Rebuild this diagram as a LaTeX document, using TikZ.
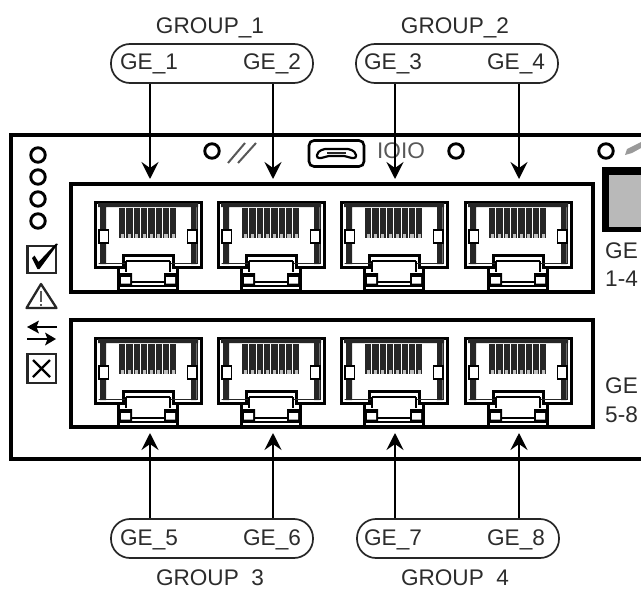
\documentclass[tikz,border=0pt]{standalone}
\usepackage{fontspec}
\setmainfont{Liberation Sans}
\usetikzlibrary{arrows.meta}
\definecolor{ink}{HTML}{2C2C2C}
\definecolor{dark}{HTML}{262626}
\definecolor{fillgray}{HTML}{B9B9B9}
\definecolor{thingray}{HTML}{585858}
\definecolor{pengray}{HTML}{9A9A9A}
\tikzset{
  x=1pt,y=-1pt,
  lbl/.style={font=\fontsize{22.6}{24}\selectfont,text=ink,anchor=base,inner sep=0pt},
  lblw/.style={font=\fontsize{22.6}{24}\selectfont,text=ink,anchor=base west,inner sep=0pt},
  pill/.style={draw=dark,line width=1.7pt,rounded corners=19pt,minimum height=39pt,inner sep=0pt,fill=white},
  arr/.style={line width=1.9pt,black,-{Stealth[length=17pt,width=17pt,inset=6pt]}},
  frame/.style={draw=black,line width=3.6pt},
  led/.style={draw=black,line width=2.9pt,fill=white,circle,minimum size=14.5pt,inner sep=0pt},
  icon/.style={draw=dark,line width=2.3pt},
  jack/.pic={
    \draw[black,line width=3pt,line join=miter,fill=white]
      (0,0)--(106,0)--(106,65)--(78,65)--(78,53)--(28,53)--(28,65)--(0,65)--cycle;
    \draw[dark,line width=1.2pt] (3.5,3.5)--(102.5,3.5)--(102.5,61.5)--(75,61.5) (31,61.5)--(3.5,61.5)--cycle;
    \fill[dark] (5,5)rectangle(11,62) (96,5)rectangle(101.5,62) (3,1)rectangle(103,5);
    \draw[black,line width=1.5pt,fill=white] (4,28)rectangle(13.5,41) (92.5,28)rectangle(102,41);
    \foreach \k in {0,...,7}{
      \fill[dark] ({24+\k*7.3},6)rectangle ++(6.3,30);
      \fill[white!75!black] ({25.6+\k*7.3},31.5)rectangle ++(3.2,4);
    }
    \draw[black,line width=3pt] (23,65)--(23,88)--(82,88)--(82,65);
    \draw[black,line width=2pt] (23,83.5)--(82,83.5);
    \draw[black,line width=2.4pt] (31,59)--(75,59) (31,59)--(31,70) (75,59)--(75,70) (37,80)--(69,80);
    \fill[black] (24,71)rectangle(37,83) (69,71)rectangle(82,83);
    \fill[white] (26,75)rectangle(35,81.5) (71,75)rectangle(80,81.5);
  }
}
\begin{document}
\begin{tikzpicture}
\useasboundingbox (0,0) rectangle (641,589);
\clip (0,0) rectangle (641,589);
\fill[white] (0,0) rectangle (641,589);
% panel
\draw[black,line width=3.8pt] (660,135)--(11,135)--(11,459)--(660,459);
\draw[frame] (71,184) rectangle (593,292);
\draw[frame] (71,320) rectangle (593,427);
% jacks
\foreach \jx in {95,218,341,465}{
  \pic at (\jx,202) {jack};
  \pic at (\jx,338) {jack};
}
% LEDs
\node[led] (l1) at (38,155) {};
\node[led] (l2) at (38,177) {};
\node[led] (l3) at (38,199) {};
\node[led] (l4) at (38,221) {};
\node[led] (l5) at (212,151) {};
\node[led] (l6) at (456,151) {};
\node[led] (l7) at (606,151) {};
% left icons
\draw[icon] (27.5,246) rectangle (56,273);
\fill[black] (32,258)--(34.5,255.5)--(38.5,262)--(56,243.5)--(58,244)--(39.5,269)--(37.5,269)--cycle;
\draw[icon,line join=round] (41,284)--(56.5,308)--(26.5,308)--cycle;
\draw[thingray,line width=1.4pt] (41,291)--(41,302) (41,304)--(41,306);
\draw[black,line width=2.4pt] (57,327)--(36,327);
\fill[black] (27,327)--(39,320.5)--(36.5,327)--(39,333.5)--cycle;
\draw[black,line width=2.4pt] (27,339)--(48,339);
\fill[black] (56,339)--(45,332.5)--(47.5,339)--(45,345.5)--cycle;
\draw[icon] (27.5,354) rectangle (56,383);
\draw[black,line width=2.4pt] (33,360)--(50,377) (50,360)--(33,377);
% top strip icons
\draw[thingray,line width=2pt] (228,163)--(245,143) (238,163)--(256,143);
\draw[black,line width=2.6pt,rounded corners=5pt] (309,140.5) rectangle (364,166.5);
\draw[black,line width=2.2pt,rounded corners=2pt] (317,158)--(317,153)--(323,149)--(350,149)--(356,153)--(356,158)--(350,158)--(346,156)--(327,156)--(323,158)--cycle;
\fill[dark] (327,152) rectangle (346,154);
\node[lbl,text=thingray] (ioio) at (401,158.5) {IOIO};
% switch square and pen
\fill[black] (602,167) rectangle (660,232);
\fill[fillgray] (609,175) rectangle (660,227);
\fill[pengray] (625,155)--(627,149)--(641,142)--(641,148)--(632,153)--cycle;
% side labels
\node[lblw] (s1) at (605,258) {GE};
\node[lblw] (s2) at (605,286) {1-4};
\node[lblw] (s3) at (605,393) {GE};
\node[lblw] (s4) at (605,422) {5-8};
% pills
\node[pill,minimum width=202pt] (p1) at (212,63.5) {};
\node[pill,minimum width=202pt] (p2) at (457,63.5) {};
\node[pill,minimum width=202pt] (p3) at (212,538.5) {};
\node[pill,minimum width=202pt] (p4) at (458,538.5) {};
% labels
\node[lbl] (g1) at (210,33) {GROUP\_1};
\node[lbl] (g2) at (455,33) {GROUP\_2};
\node[lbl] (g3) at (210,585.5) {GROUP\ \ 3};
\node[lbl] (g4) at (455,585.5) {GROUP\ \ 4};
\node[lbl] (e1) at (149,70) {GE\_1};
\node[lbl] (e2) at (272,70) {GE\_2};
\node[lbl] (e3) at (393,70) {GE\_3};
\node[lbl] (e4) at (516,70) {GE\_4};
\node[lbl] (e5) at (149,545) {GE\_5};
\node[lbl] (e6) at (272,545) {GE\_6};
\node[lbl] (e7) at (393,545) {GE\_7};
\node[lbl] (e8) at (516,545) {GE\_8};
% arrow targets
\coordinate (t1) at (150,179); \coordinate (t2) at (273,179);
\coordinate (t3) at (395,179); \coordinate (t4) at (519,179);
\coordinate (t5) at (150,433); \coordinate (t6) at (273,433);
\coordinate (t7) at (395,433); \coordinate (t8) at (519,433);
\draw[arr] (p1.south -| t1) -- (t1);
\draw[arr] (p1.south -| t2) -- (t2);
\draw[arr] (p2.south -| t3) -- (t3);
\draw[arr] (p2.south -| t4) -- (t4);
\draw[arr] (p3.north -| t5) -- (t5);
\draw[arr] (p3.north -| t6) -- (t6);
\draw[arr] (p4.north -| t7) -- (t7);
\draw[arr] (p4.north -| t8) -- (t8);
\end{tikzpicture}
\end{document}
